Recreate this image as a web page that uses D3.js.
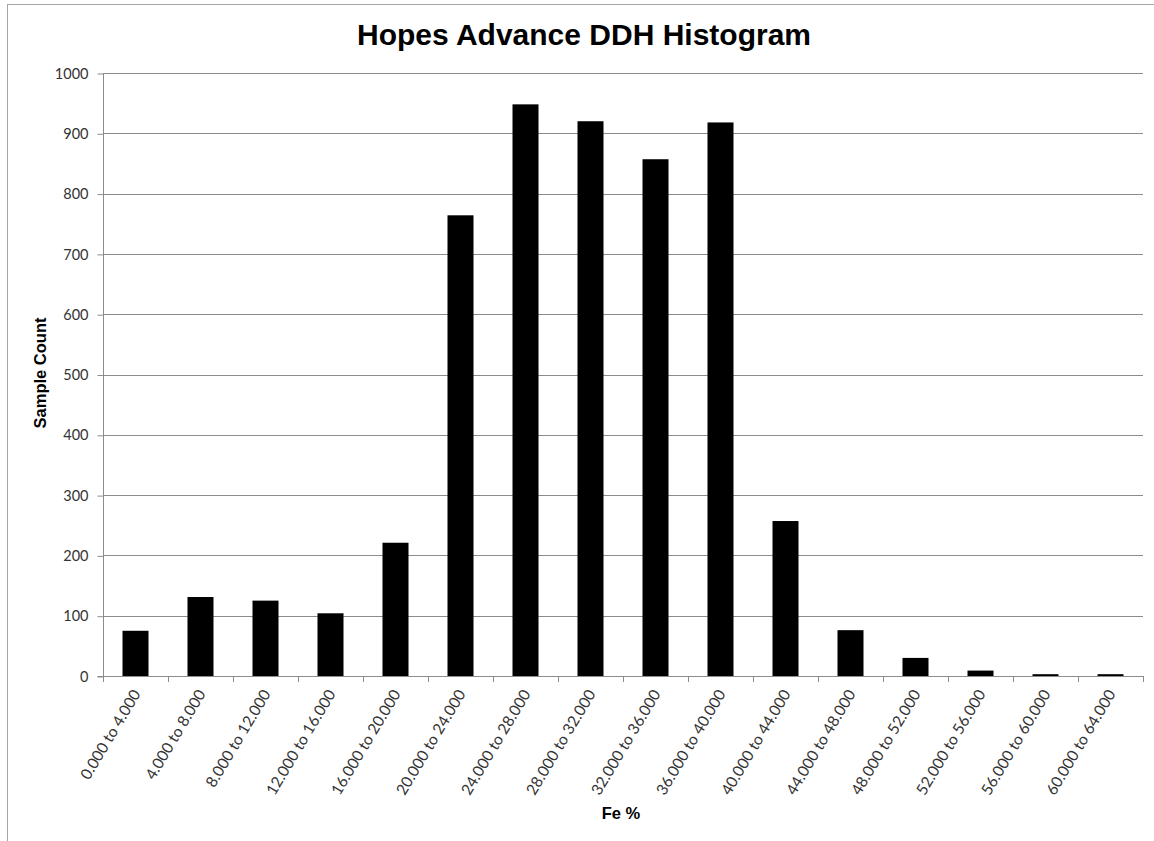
<!DOCTYPE html>
<html>
<head>
<meta charset="utf-8">
<script src="https://cdn.jsdelivr.net/npm/d3@7"></script>
<style>
  html, body { margin: 0; padding: 0; background: #fff; }
  svg { display: block; }
</style>
</head>
<body>
<div id="chart"></div>
<script>
const title = "Hopes Advance DDH Histogram";
const xTitle = "Fe %";
const yTitle = "Sample Count";
const categories = [
  "0.000 to 4.000", "4.000 to 8.000", "8.000 to 12.000", "12.000 to 16.000",
  "16.000 to 20.000", "20.000 to 24.000", "24.000 to 28.000", "28.000 to 32.000",
  "32.000 to 36.000", "36.000 to 40.000", "40.000 to 44.000", "44.000 to 48.000",
  "48.000 to 52.000", "52.000 to 56.000", "56.000 to 60.000", "60.000 to 64.000"
];
const counts = [75, 131, 125, 104, 221, 764, 948, 920, 857, 918, 257, 76, 30, 9, 3, 3];
const yTicks = [0, 100, 200, 300, 400, 500, 600, 700, 800, 900, 1000];

const W = 1154, H = 841;
const plot = { left: 103, right: 1143, top: 73, bottom: 676 };

const svg = d3.select("#chart").append("svg").attr("width", W).attr("height", H);

// outer chart border
svg.append("rect")
  .attr("x", 7.5).attr("y", 4.5).attr("width", W + 20).attr("height", H + 20)
  .attr("fill", "none").attr("stroke", "#a6a6a6").attr("stroke-width", 1);

const x = d3.scaleBand().domain(categories).range([plot.left, plot.right])
  .paddingInner(0.6).paddingOuter(0.3);
const y = d3.scaleLinear().domain([0, 1000]).range([plot.bottom, plot.top]);

// gridlines
svg.append("g").selectAll("line").data(yTicks.filter(d => d > 0)).join("line")
  .attr("x1", plot.left).attr("x2", plot.right)
  .attr("y1", d => Math.round(y(d)) + 0.5).attr("y2", d => Math.round(y(d)) + 0.5)
  .attr("stroke", "#8c8c8c").attr("stroke-width", 1);

// bars
svg.append("g").selectAll("rect").data(categories).join("rect")
  .attr("x", d => x(d))
  .attr("y", (d, i) => y(counts[i]))
  .attr("width", x.bandwidth())
  .attr("height", (d, i) => y(0) - y(counts[i]))
  .attr("fill", "#000");

// y axis
const yAxis = d3.axisLeft(y).tickValues(yTicks).tickSize(6).tickPadding(9).tickFormat(d3.format("d"));
const gy = svg.append("g").attr("transform", `translate(${plot.left + 0.5},0.5)`).call(yAxis);
gy.select(".domain").attr("stroke", "#8c8c8c").attr("d", `M-6,${plot.bottom}H0V${plot.top}`);
gy.selectAll(".tick line").attr("stroke", "#8c8c8c");
gy.selectAll(".tick text")
  .attr("font-family", "Lato, 'Open Sans', sans-serif")
  .attr("font-size", 14.5).attr("fill", "#333");

// x axis line and boundary ticks
const step = x.step();
const bounds = d3.range(categories.length + 1).map(i => plot.left + i * step);
svg.append("line")
  .attr("x1", plot.left).attr("x2", plot.right + 0.5)
  .attr("y1", plot.bottom + 0.5).attr("y2", plot.bottom + 0.5)
  .attr("stroke", "#8c8c8c");
svg.append("g").selectAll("line").data(bounds).join("line")
  .attr("x1", d => Math.round(d) + 0.5).attr("x2", d => Math.round(d) + 0.5)
  .attr("y1", plot.bottom).attr("y2", plot.bottom + 6)
  .attr("stroke", "#8c8c8c");

// x tick labels
svg.append("g").selectAll("text").data(categories).join("text")
  .attr("transform", d => `translate(${x(d) + x.bandwidth() / 2 + 1},${plot.bottom + 15}) rotate(-59)`)
  .attr("text-anchor", "end")
  .attr("dy", "0.35em")
  .attr("font-family", "Lato, 'Open Sans', sans-serif")
  .attr("font-size", 15.5).attr("fill", "#333")
  .text(d => d);

// title
svg.append("text")
  .attr("x", 584).attr("y", 45)
  .attr("text-anchor", "middle")
  .attr("font-family", "'Liberation Sans', Arial, sans-serif")
  .attr("font-weight", "bold").attr("font-size", 30)
  .attr("fill", "#000")
  .text(title);

// axis titles
svg.append("text")
  .attr("transform", `translate(46,373) rotate(-90)`)
  .attr("text-anchor", "middle")
  .attr("font-family", "'Liberation Sans', Arial, sans-serif")
  .attr("font-weight", "bold").attr("font-size", 16.5)
  .attr("fill", "#000")
  .text(yTitle);

svg.append("text")
  .attr("x", 621).attr("y", 819)
  .attr("text-anchor", "middle")
  .attr("font-family", "'Liberation Sans', Arial, sans-serif")
  .attr("font-weight", "bold").attr("font-size", 16.5)
  .attr("fill", "#000")
  .text(xTitle);
</script>
</body>
</html>
